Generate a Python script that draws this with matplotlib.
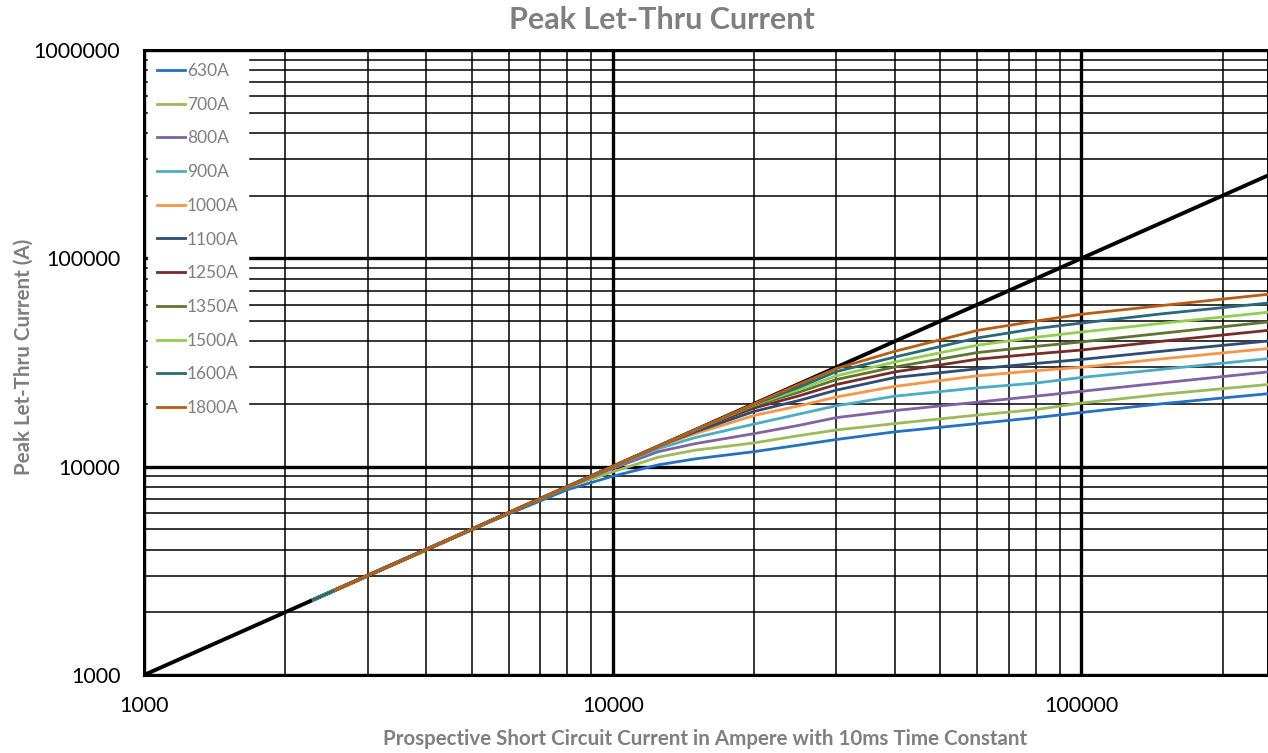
import numpy as np
import matplotlib
matplotlib.use("Agg")
from matplotlib import pyplot as plt
from matplotlib.ticker import FixedLocator, NullFormatter

# prospective current (A) at which the curves were read
x_pts = [2300, 5000, 8000, 10000, 12500, 15000, 20000, 25000, 30000,
         40000, 60000, 80000, 100000, 150000, 250000]
x_1800 = [2560] + x_pts[1:]

ratings = ["630A", "700A", "800A", "900A", "1000A", "1100A",
           "1250A", "1350A", "1500A", "1600A", "1800A"]

i630 = [2300, 5000, 7750, 9000, 10200, 10900, 11800, 12700, 13500, 14700, 16100, 17200, 18200, 20100, 22400]
i700 = [2300, 5000, 7950, 9450, 11100, 12000, 13000, 14100, 15000, 16100, 17700, 18800, 20200, 22300, 24800]
i800 = [2300, 5000, 8000, 9800, 11800, 12900, 14400, 15800, 17200, 18600, 20400, 21800, 23000, 25300, 28500]
i900 = [2300, 5000, 8000, 9950, 12200, 13800, 16000, 17900, 19600, 21800, 23900, 25200, 26800, 29400, 33000]
i1000 = [2300, 5000, 8000, 10000, 12500, 14400, 17600, 19600, 21600, 24300, 27300, 28900, 30000, 33000, 36900]
i1100 = [2300, 5000, 8000, 10000, 12500, 14700, 18400, 20800, 23300, 26800, 29500, 31300, 32700, 35900, 40100]
i1250 = [2300, 5000, 8000, 10000, 12500, 15000, 19100, 21900, 24800, 28500, 32800, 34800, 36300, 40100, 45100]
i1350 = [2300, 5000, 8000, 10000, 12500, 15000, 19600, 22800, 26200, 30100, 35300, 37800, 39700, 43800, 49500]
i1500 = [2300, 5000, 8000, 10000, 12500, 15000, 19800, 23500, 27300, 31800, 38300, 41800, 44300, 48900, 55100]
i1600 = [2300, 5000, 8000, 10000, 12500, 15000, 19900, 24100, 28600, 33600, 41500, 46000, 48900, 54300, 61000]
i1800 = [2560, 5000, 8000, 10000, 12500, 15000, 20000, 24900, 29600, 35800, 45100, 50000, 53900, 59500, 67200]

series = [i630, i700, i800, i900, i1000, i1100, i1250, i1350, i1500, i1600, i1800]
colors = ["#2272C3", "#9BBB59", "#8064A2", "#4BACC6", "#F79646", "#2C4D75",
          "#772C2A", "#5F7530", "#92CF50", "#276A7C", "#B95C14"]

# unlimited current line (peak = prospective)
diag_x = [1000, 250000]
diag_y = [1000, 250000]

grey = "#7F7F7F"
plt.rcParams["font.family"] = ["Lato", "DejaVu Sans"]

fig = plt.figure(figsize=(12.68, 7.53), dpi=100)
ax = fig.add_axes([144/1268, 1-675/753, 1-144/1268, (675-50)/753])

ax.plot(diag_x, diag_y, color="black", lw=2.8, zorder=3)
for name, ys, c in zip(ratings, series, colors):
    xs = x_1800 if name == "1800A" else x_pts
    ax.plot(xs, ys, color=c, lw=2.0, label=name, zorder=4)

ax.set_xscale("log")
ax.set_yscale("log")
ax.set_xlim(1000, 250000)
ax.set_ylim(1000, 1000000)

ax.xaxis.set_major_locator(FixedLocator([1000, 10000, 100000]))
ax.yaxis.set_major_locator(FixedLocator([1000, 10000, 100000, 1000000]))
ax.set_xticklabels(["1000", "10000", "100000"])
ax.set_yticklabels(["1000", "10000", "100000", "1000000"])
ax.xaxis.set_minor_formatter(NullFormatter())
ax.yaxis.set_minor_formatter(NullFormatter())
ax.tick_params(which="both", length=0, labelsize=15.5, colors="black")
ax.tick_params(axis="x", pad=15)
ax.tick_params(axis="y", pad=17)

ax.grid(which="major", color="black", lw=2.4, zorder=1)
ax.grid(which="minor", color="black", lw=1.1, zorder=1)
ax.set_axisbelow(True)
for s in ax.spines.values():
    s.set_linewidth(2.2)
    s.set_color("black")

fig.text(0.522, 1 - 20/753, "Peak Let-Thru Current", fontsize=22,
         fontweight="bold", color=grey, ha="center", va="center")
ax.set_xlabel("Prospective Short Circuit Current in Ampere with 10ms Time Constant",
              fontsize=14.8, fontweight="bold", color=grey)
ax.set_ylabel("Peak Let-Thru Current (A)", fontsize=14.8, fontweight="bold",
              color=grey)
ax.xaxis.set_label_coords(0.499, -0.087)
ax.yaxis.set_label_coords(-0.098, 0.509)

leg = ax.legend(loc="upper left", bbox_to_anchor=(0.0, 1.0), fontsize=12.5,
                frameon=True, fancybox=False, framealpha=1, edgecolor="white",
                facecolor="white", labelspacing=1.02, handlelength=1.6,
                handletextpad=0.12, borderpad=0.5, borderaxespad=0.25)
for t in leg.get_texts():
    t.set_color(grey)
leg.set_zorder(2)

fig.savefig("out.png", dpi=100)
